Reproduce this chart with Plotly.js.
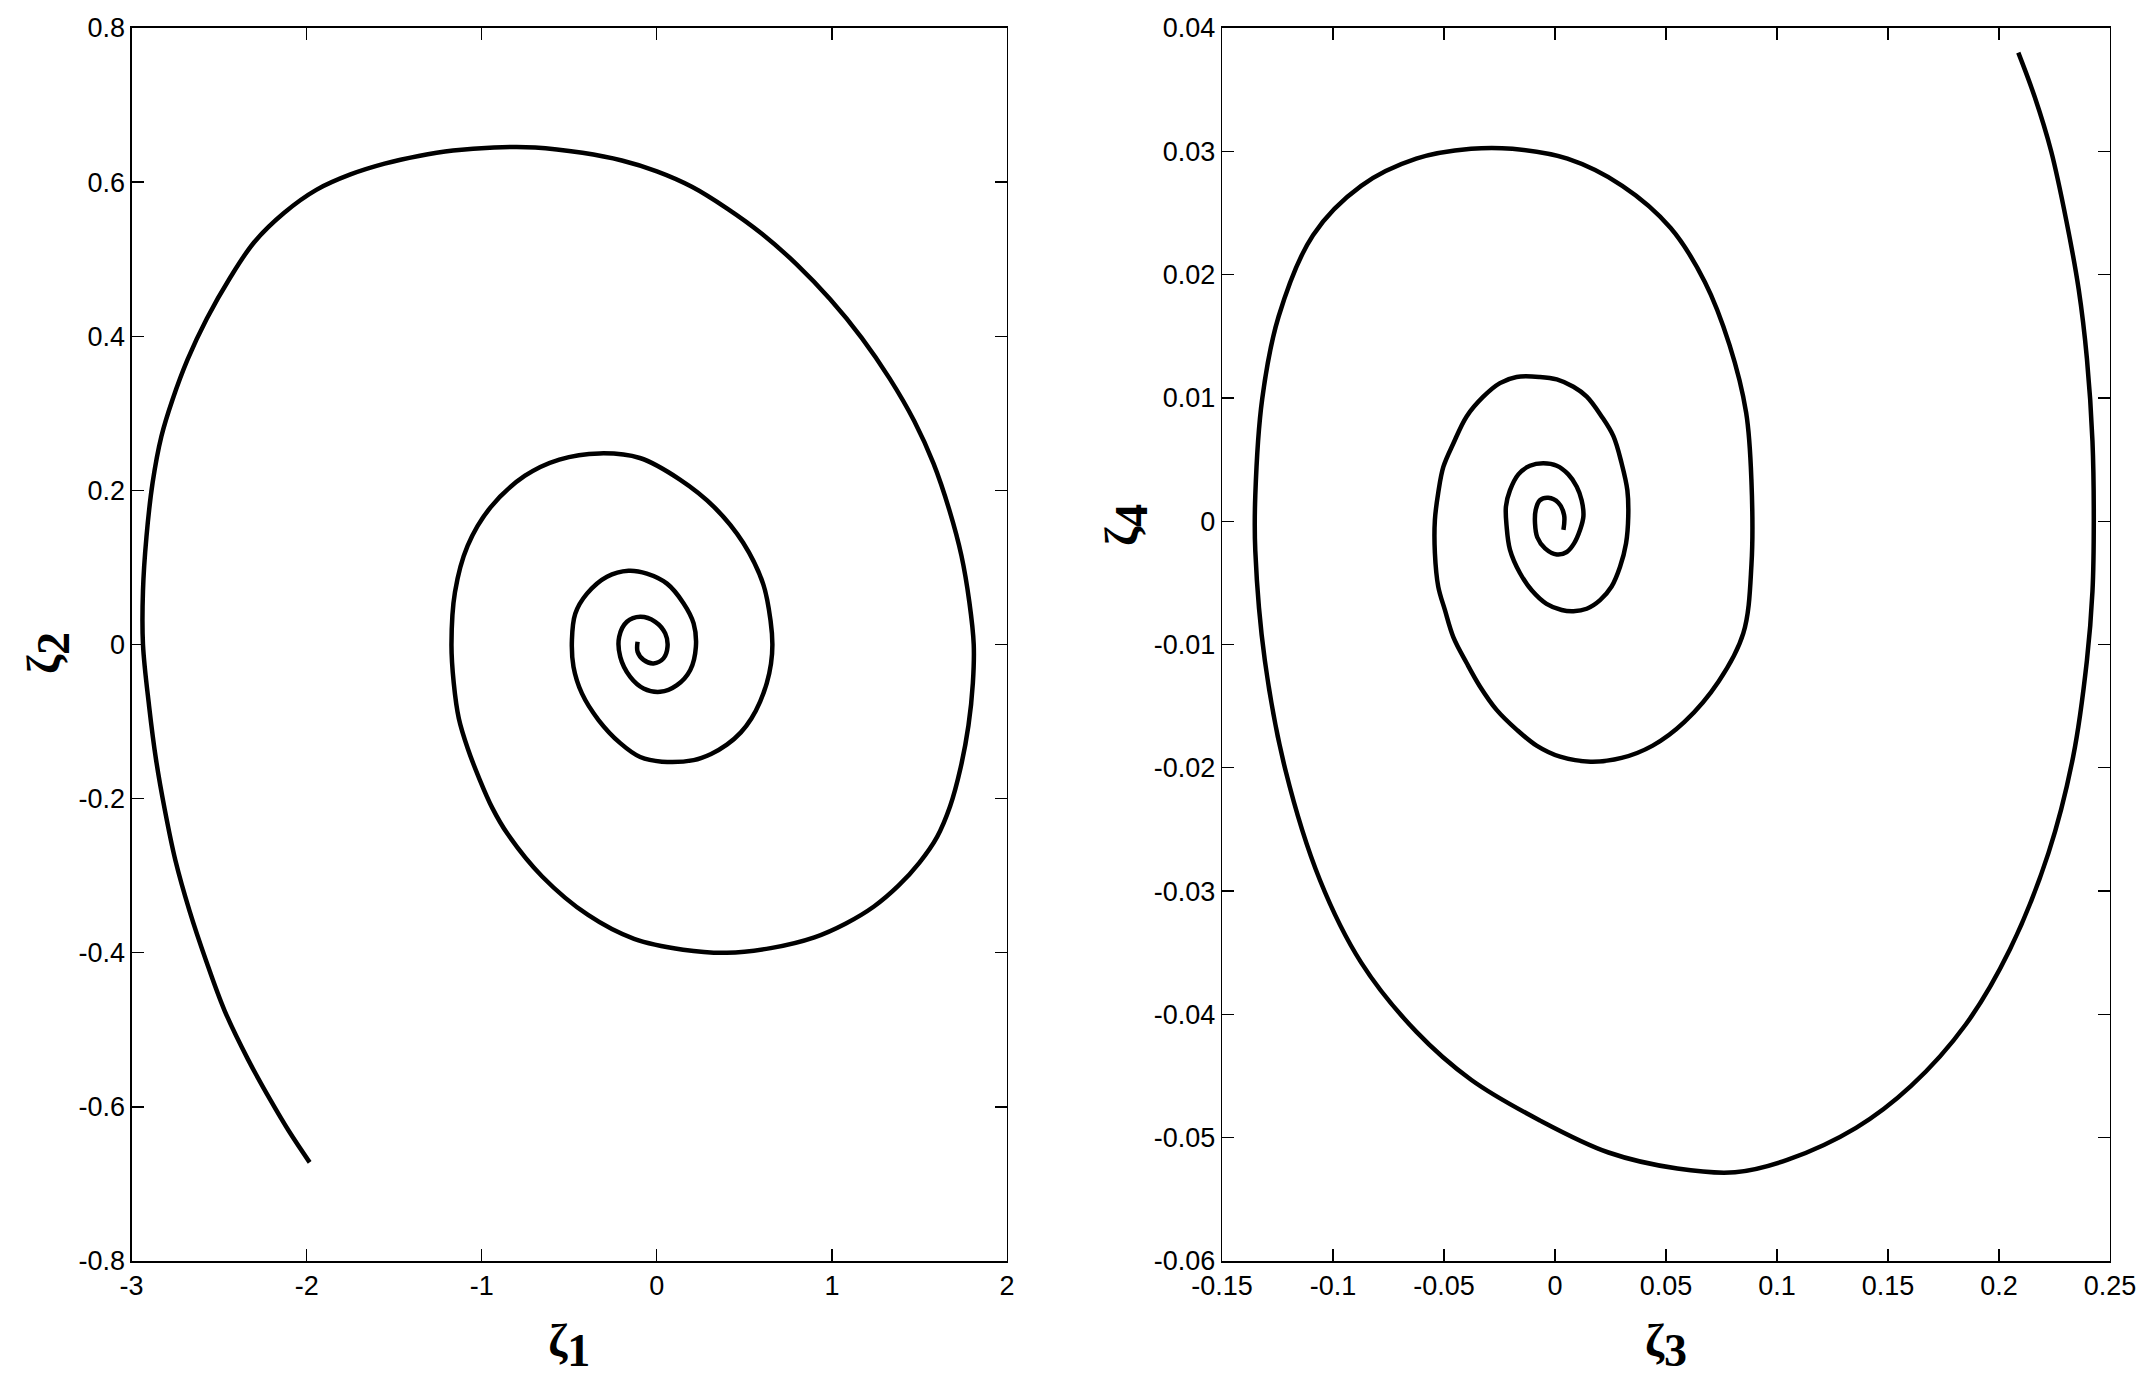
<!DOCTYPE html>
<html>
<head>
<meta charset="utf-8">
<script src="https://cdn.plot.ly/plotly-3.0.1.min.js"></script>
<style>
  html, body { margin: 0; padding: 0; background: #ffffff; }
  #chart { width: 2155px; height: 1391px; }
</style>
</head>
<body>
<div id="chart"></div>
<script>
// ---- Left phase portrait: zeta1 vs zeta2 (outer end -> centre) ----
var zeta1 = [-1.983,-2.10,-2.21,-2.336,-2.469,-2.575,-2.670,-2.750,-2.810,-2.860,-2.900,-2.935,
  -2.935,-2.915,-2.880,-2.830,-2.766,-2.680,-2.570,-2.440,-2.300,-2.130,-1.945,-1.750,-1.555,-1.360,-1.164,-0.930,-0.695,-0.425,
  -0.20,0.00,0.20,0.40,0.60,0.80,0.99,1.17,1.33,1.47,1.58,1.67,1.74,1.785,1.810,
  1.805,1.780,1.735,1.675,1.600,1.500,1.380,1.240,1.080,0.900,0.650,0.400,0.150,-0.130,-0.393,-0.655,-0.852,-0.940,-1.016,-1.080,-1.131,-1.160,-1.173,
  -1.153,-1.081,-0.950,-0.753,-0.557,-0.327,-0.097,0.132,0.329,0.493,0.608,0.650,0.660,0.652,0.628,0.590,0.540,0.480,0.400,0.310,0.210,0.029,-0.095,-0.209,-0.333,-0.428,-0.476,
  -0.485,-0.466,-0.399,-0.285,-0.162,-0.057,0.058,0.153,0.210,0.223,0.191,0.115,0.019,-0.076,-0.152,-0.209,
  -0.215,-0.171,-0.095,-0.009,0.048,0.061,0.038,-0.019,-0.076,-0.110,-0.110];
var zeta2 = [-0.672,-0.632,-0.590,-0.538,-0.475,-0.410,-0.345,-0.280,-0.215,-0.150,-0.080,0.000,
  0.070,0.140,0.210,0.270,0.318,0.370,0.423,0.475,0.522,0.560,0.590,0.610,0.624,0.634,0.641,0.645,0.645,0.638,
  0.628,0.614,0.594,0.566,0.533,0.493,0.448,0.398,0.345,0.290,0.235,0.175,0.115,0.055,0.000,
  -0.050,-0.105,-0.160,-0.210,-0.250,-0.283,-0.313,-0.340,-0.362,-0.380,-0.394,-0.400,-0.396,-0.382,-0.351,-0.301,-0.246,-0.212,-0.173,-0.135,-0.096,-0.050,0.000,
  0.068,0.128,0.178,0.219,0.240,0.248,0.242,0.214,0.178,0.132,0.078,0.030,0.000,-0.025,-0.050,-0.074,-0.096,-0.114,-0.130,-0.142,-0.150,-0.152,-0.146,-0.128,-0.098,-0.0635,-0.029,
  0.006,0.040,0.066,0.088,0.0957,0.092,0.079,0.0533,0.0274,-0.003,-0.033,-0.0527,-0.0614,-0.057,-0.042,-0.016,
  0.010,0.0295,0.036,0.0295,0.0144,-0.003,-0.018,-0.0245,-0.020,-0.0095,0.0035];

// ---- Right phase portrait: zeta3 vs zeta4 (outer end -> centre) ----
var zeta3 = [0.2087,0.2161,0.2235,0.2303,0.2359,0.2396,0.2421,0.2427,0.2421,0.2396,0.2334,0.2223,0.2050,0.1851,0.1604,0.1356,0.1046,0.0811,0.0551,0.0241,-0.0068,-0.0378,-0.0625,-0.0873,-0.1059,-0.1214,-0.1307,-0.1350,-0.1350,-0.1319,-0.1245,-0.1090,-0.0873,-0.0625,-0.0378,-0.0192,0.0056,0.0303,0.0520,0.0675,0.0786,0.0861,0.0885,0.0885,0.0848,0.0737,0.0582,0.0440,0.0300,0.0160,0.0023,-0.0083,-0.0173,-0.0263,-0.0338,-0.0398,-0.0458,-0.0496,-0.0526,-0.0541,-0.0541,-0.0526,-0.0503,-0.0458,-0.0398,-0.0323,-0.0248,-0.0173,-0.0068,0.0008,0.0083,0.0143,0.0210,0.0263,0.0300,0.0326,0.0330,0.0320,0.0293,0.0255,0.0203,0.0143,0.0083,0.0030,-0.0038,-0.0105,-0.0158,-0.0203,-0.0218,-0.0221,-0.0203,-0.0165,-0.0113,-0.0053,0.0008,0.0060,0.0098,0.0120,0.0128,0.0113,0.0086,0.0053,0.0008,-0.0045,-0.0080,-0.0090,-0.0087,-0.0068,-0.0030,0.0015,0.0041,0.0038];
var zeta4 = [0.0380,0.0344,0.0300,0.0244,0.0188,0.0132,0.0065,0.0000,-0.0057,-0.0113,-0.0191,-0.0269,-0.0347,-0.0408,-0.0458,-0.0492,-0.0518,-0.0528,-0.0525,-0.0512,-0.0486,-0.0453,-0.0414,-0.0358,-0.0291,-0.0202,-0.0113,-0.0024,0.0021,0.0099,0.0166,0.0232,0.0272,0.0294,0.0302,0.0302,0.0294,0.0272,0.0238,0.0194,0.0143,0.0088,0.0032,-0.0035,-0.0091,-0.0130,-0.0163,-0.0182,-0.0192,-0.0195,-0.0191,-0.0182,-0.0169,-0.0153,-0.0134,-0.0115,-0.0094,-0.0072,-0.0053,-0.0026,0.0001,0.0023,0.0044,0.0063,0.0085,0.0101,0.0112,0.0117,0.0117,0.0115,0.0109,0.0101,0.0085,0.0069,0.0047,0.0025,0.0004,-0.0018,-0.0037,-0.0053,-0.0064,-0.0071,-0.0073,-0.0072,-0.0067,-0.0056,-0.0042,-0.0023,-0.0004,0.0012,0.0025,0.0038,0.0045,0.0047,0.0045,0.0038,0.0028,0.0017,0.0004,-0.0007,-0.0018,-0.0025,-0.0027,-0.0022,-0.0013,-0.0002,0.0009,0.0017,0.0019,0.0015,0.0005,-0.0007];

// ---- Tick values and labels ----
var x1Ticks = [-3,-2,-1,0,1,2];
var x1Labels = ["-3","-2","-1","0","1","2"];
var y1Ticks = [0.8,0.6,0.4,0.2,0,-0.2,-0.4,-0.6,-0.8];
var y1Labels = ["0.8","0.6","0.4","0.2","0","-0.2","-0.4","-0.6","-0.8"];
var x2Ticks = [-0.15,-0.1,-0.05,0,0.05,0.1,0.15,0.2,0.25];
var x2Labels = ["-0.15","-0.1","-0.05","0","0.05","0.1","0.15","0.2","0.25"];
var y2Ticks = [0.04,0.03,0.02,0.01,0,-0.01,-0.02,-0.03,-0.04,-0.05,-0.06];
var y2Labels = ["0.04","0.03","0.02","0.01","0","-0.01","-0.02","-0.03","-0.04","-0.05","-0.06"];

var W = 2155, H = 1391;
var tickFont = {family: "Liberation Sans, Arial, sans-serif", size: 27, color: "#000"};
var titleFont = {family: "Liberation Serif, Times New Roman, serif", size: 46, color: "#000"};

function axisBase(dom, ticks, labels, range) {
  return {
    domain: dom, range: range, autorange: false,
    tickmode: "array", tickvals: ticks, ticktext: labels,
    ticks: "inside", ticklen: 12, tickwidth: 1.3, tickcolor: "#000",
    showline: true, linecolor: "#000", mirror: "ticks",
    showgrid: false, zeroline: false,
    tickfont: tickFont, fixedrange: true
  };
}

var yDom = [1 - 1261 / H, 1 - 28 / H];
var xaxis = axisBase([131.6 / W, 1007 / W], x1Ticks, x1Labels, [-3, 2]);
xaxis.linewidth = 1.6;
xaxis.title = {text: "<b>ζ<sub><span style='font-size:143%'>1</span></sub></b>", font: titleFont, standoff: 24};
var yaxis = axisBase(yDom, y1Ticks, y1Labels, [-0.8, 0.8]);
yaxis.linewidth = 1.2;
var xaxis2 = axisBase([1222 / W, 2110 / W], x2Ticks, x2Labels, [-0.15, 0.25]);
xaxis2.linewidth = 1.6;
xaxis2.anchor = "y2";
xaxis2.title = {text: "<b>ζ<sub><span style='font-size:143%'>3</span></sub></b>", font: titleFont, standoff: 24};
var yaxis2 = axisBase(yDom, y2Ticks, y2Labels, [-0.06, 0.04]);
yaxis2.linewidth = 1.2;
yaxis2.anchor = "x2";

var traces = [
  {x: zeta1, y: zeta2, type: "scatter", mode: "lines", xaxis: "x", yaxis: "y",
   line: {color: "#000", width: 4.5, shape: "spline", smoothing: 1}, hoverinfo: "skip"},
  {x: zeta3, y: zeta4, type: "scatter", mode: "lines", xaxis: "x2", yaxis: "y2",
   line: {color: "#000", width: 4.5, shape: "spline", smoothing: 1}, hoverinfo: "skip"}
];

var layout = {
  width: W, height: H,
  margin: {l: 0, r: 0, t: 0, b: 0, pad: 0},
  paper_bgcolor: "#fff", plot_bgcolor: "#fff",
  showlegend: false,
  xaxis: xaxis, yaxis: yaxis, xaxis2: xaxis2, yaxis2: yaxis2,
  annotations: [
    {text: "<b>ζ<sub><span style='font-size:143%'>2</span></sub></b>", textangle: -90,
     xref: "paper", yref: "paper", x: 48 / W, y: 1 - 653 / H,
     xanchor: "center", yanchor: "middle", showarrow: false, font: titleFont},
    {text: "<b>ζ<sub><span style='font-size:143%'>4</span></sub></b>", textangle: -90,
     xref: "paper", yref: "paper", x: 1126 / W, y: 1 - 525 / H,
     xanchor: "center", yanchor: "middle", showarrow: false, font: titleFont}
  ]
};

Plotly.newPlot("chart", traces, layout, {staticPlot: true, displayModeBar: false});
</script>
</body>
</html>
